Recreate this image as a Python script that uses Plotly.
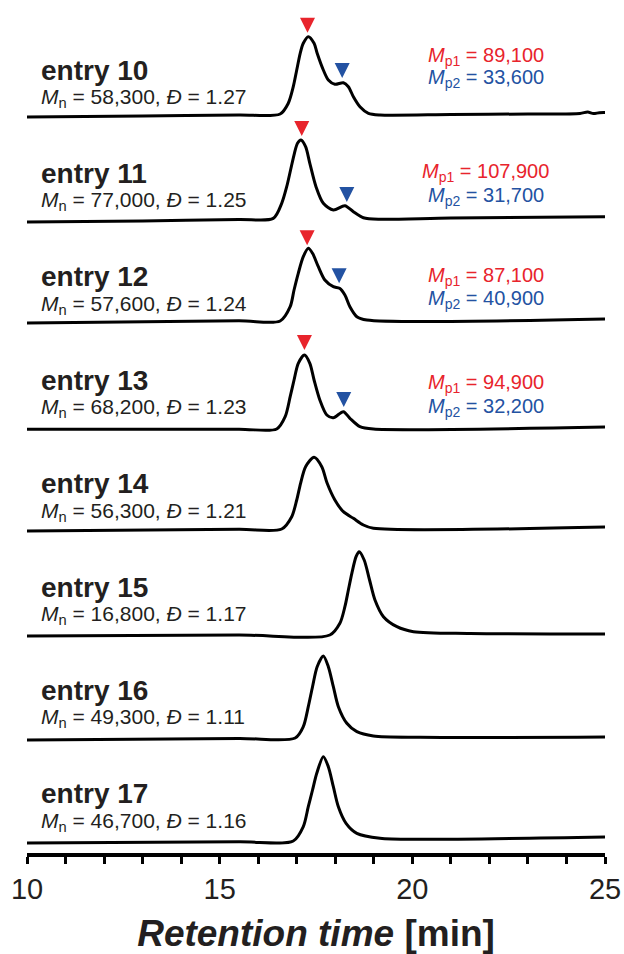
import numpy as np
import plotly.graph_objects as go

# ---------------- data ----------------
entries = ["entry 10", "entry 11", "entry 12", "entry 13",
           "entry 14", "entry 15", "entry 16", "entry 17"]
mn_values = ["58,300", "77,000", "57,600", "68,200",
             "56,300", "16,800", "49,300", "46,700"]
dispersity = ["1.27", "1.25", "1.24", "1.23", "1.21", "1.17", "1.11", "1.16"]

mp1_values = ["89,100", "107,900", "87,100", "94,900"]
mp2_values = ["33,600", "31,700", "40,900", "32,200"]
peak1_time = [17.28, 17.13, 17.27, 17.20]
peak2_time = [18.18, 18.30, 18.10, 18.22]

# retention time [min] / detector signal (arbitrary units) for each trace
time_10 = [10.0, 13.0, 15.5, 16.57, 16.78, 16.91, 17.0, 17.09, 17.17, 17.30, 17.45, 17.53,
           17.69, 17.82, 17.99, 18.21, 18.34, 18.47, 18.64, 18.86, 19.16, 21.0, 23.0,
           24.35, 24.55, 24.7, 24.85, 25.0]
signal_10 = [-4, -3, -2, -1, 9.7, 26.3, 43, 59.7, 69.7, 76.3, 69.7, 59.7,
             43, 33, 28.7, 30.3, 26.3, 16.3, 6.3, -0.3, -2, -1.5, -1,
             -0.5, 1.0, -0.6, 0.3, 0.4]

time_11 = [10.0, 13.0, 15.5, 16.39, 16.61, 16.74, 16.84, 16.94, 17.02, 17.11, 17.23, 17.34,
           17.50, 17.69, 17.95, 18.25, 18.47, 18.73, 19.16, 21.0, 25.0]
signal_11 = [-5.6, -4.5, -3, -2, 13.1, 29.7, 46.4, 63.1, 73.1, 76.4, 69.7, 53.1,
             29.7, 13.1, 6.4, 10.7, 4.7, -1.3, -2.9, -1.5, -0.4]

time_12 = [10.0, 15.5, 16.57, 16.83, 16.93, 17.04, 17.17, 17.30, 17.41, 17.56, 17.73, 17.95,
           18.11, 18.25, 18.38, 18.56, 18.82, 25.0]
signal_12 = [-3.2, -1, -1.2, 13.1, 29.8, 46.5, 63.1, 71.5, 66.5, 53.1, 39.8, 33.1,
             31.5, 24.8, 13.1, 3.1, -0.2, 0.8]

time_13 = [10.0, 15.5, 16.48, 16.70, 16.83, 16.93, 17.04, 17.20, 17.34, 17.45, 17.60, 17.78,
           17.95, 18.21, 18.38, 18.64, 18.99, 25.0]
signal_13 = [-6, -6, -5.8, 6.5, 26.5, 43.2, 59.9, 68.2, 59.9, 43.2, 23.2, 8.2,
             5.5, 11.5, 4.9, -3.5, -5.8, -3.8]

time_14 = [10.0, 15.5, 16.61, 16.87, 17.0, 17.10, 17.23, 17.45, 17.65, 17.79, 17.99, 18.21,
           18.47, 18.73, 18.99, 25.0]
signal_14 = [-4.4, -2.7, -2.4, 9.9, 26.6, 43.3, 59.9, 69.3, 59.9, 43.3, 26.6, 14.9,
             8.3, 1.6, -1.7, -0.4]

time_15 = [10.0, 15.5, 17.86, 18.12, 18.25, 18.34, 18.43, 18.54, 18.62, 18.75, 18.89, 19.03,
           19.25, 19.60, 20.03, 21.5, 25.0]
signal_15 = [-6, -5, -5, 6.7, 23.3, 40, 56.7, 73.3, 78.3, 70, 50, 30,
             13.3, 3.3, -1.7, -3.5, -4]

time_16 = [10.0, 15.5, 16.96, 17.17, 17.30, 17.41, 17.53, 17.69, 17.82, 17.95, 18.08, 18.30,
           18.56, 18.99, 20.2, 25.0]
signal_16 = [-6.6, -5, -4.6, 6.7, 26.7, 46.7, 66.7, 77.4, 66.7, 46.7, 26.7, 10.1,
             1.7, -2.6, -3.9, -3.6]

time_17 = [10.0, 15.5, 16.91, 17.17, 17.30, 17.41, 17.52, 17.69, 17.82, 17.95, 18.08, 18.28,
           18.56, 19.16, 20.2, 25.0]
signal_17 = [-6.2, -5, -4.2, 10.1, 30.1, 46.8, 63.5, 80.1, 70.1, 50.1, 30.1, 13.5,
             3.5, -1.5, -2.5, -0.2]

times = [time_10, time_11, time_12, time_13, time_14, time_15, time_16, time_17]
signals = [signal_10, signal_11, signal_12, signal_13, signal_14, signal_15, signal_16, signal_17]

# ---------------- layout / style ----------------
W, H = 624, 954
M_L, M_R, M_T, M_B = 27, 19, 10, 101
Y_SPAN = H - M_T - M_B          # y units == pixels
STACK = 103.4
BASE = 16.2
offsets = [BASE + (len(entries) - 1 - i) * STACK for i in range(len(entries))]

LINE_COL = "#000000"
TEXT_COL = "#231f20"
RED = "#e8242c"
BLUE = "#2352a2"
FONT = "Liberation Sans, Arial, Helvetica, sans-serif"

fig = go.Figure()

for i in range(len(entries)):
    y = [offsets[i] + s for s in signals[i]]
    fig.add_trace(go.Scatter(
        x=times[i], y=y, mode="lines",
        line=dict(color=LINE_COL, width=3, shape="spline", smoothing=0.8),
        hoverinfo="skip", showlegend=False))

# peak markers (tip sits just above the curve)
GAP = 5
for i in range(len(peak1_time)):
    for t, col in ((peak1_time[i], RED), (peak2_time[i], BLUE)):
        yv = offsets[i] + float(np.interp(t, times[i], signals[i])) + GAP
        fig.add_trace(go.Scatter(
            x=[t], y=[yv], mode="markers",
            marker=dict(symbol="arrow-down", size=15, color=col, line=dict(width=0)),
            hoverinfo="skip", showlegend=False, cliponaxis=False))

# labels
LABEL_X = 10.3
LABEL_DY = 43
MN_DY = 15
for i in range(len(entries)):
    fig.add_annotation(x=LABEL_X, y=offsets[i] + LABEL_DY, xref="x", yref="y",
                       text="<b>%s</b>" % entries[i], showarrow=False,
                       xanchor="left", yanchor="middle",
                       font=dict(family=FONT, size=28, color=TEXT_COL))
    fig.add_annotation(x=LABEL_X, y=offsets[i] + MN_DY, xref="x", yref="y",
                       text="<i>M</i><sub>n</sub> = %s, <i>Đ</i> = %s" % (mn_values[i], dispersity[i]),
                       showarrow=False, xanchor="left", yanchor="middle",
                       font=dict(family=FONT, size=21, color=TEXT_COL))

MP_X = 21.91
mp1_dy = [57, 44, 43, 40]
mp2_dy = [35, 20, 20, 16]
for i in range(len(mp1_values)):
    fig.add_annotation(x=MP_X, y=offsets[i] + mp1_dy[i], xref="x", yref="y",
                       text="<i>M</i><sub>p1</sub> = %s" % mp1_values[i], showarrow=False,
                       xanchor="center", yanchor="middle",
                       font=dict(family=FONT, size=20, color=RED))
    fig.add_annotation(x=MP_X, y=offsets[i] + mp2_dy[i], xref="x", yref="y",
                       text="<i>M</i><sub>p2</sub> = %s" % mp2_values[i], showarrow=False,
                       xanchor="center", yanchor="middle",
                       font=dict(family=FONT, size=20, color=BLUE))

fig.update_layout(
    width=W, height=H,
    margin=dict(l=M_L, r=M_R, t=M_T, b=M_B, pad=0, autoexpand=False),
    paper_bgcolor="white", plot_bgcolor="white",
    font=dict(family=FONT, color=TEXT_COL),
    xaxis=dict(
        range=[10, 25], showgrid=False, zeroline=False, automargin=False,
        showline=True, linecolor=LINE_COL, linewidth=4,
        ticks="outside", ticklen=7, tickwidth=3, tickcolor=LINE_COL,
        tick0=10, dtick=5,
        minor=dict(ticks="outside", dtick=1, ticklen=7, tickwidth=3, tickcolor=LINE_COL),
        tickfont=dict(family=FONT, size=29, color=TEXT_COL),
        title=dict(text="<b><i>Retention time</i> [min]</b>",
                   font=dict(family=FONT, size=37, color=TEXT_COL), standoff=24),
    ),
    yaxis=dict(range=[0, Y_SPAN], visible=False, showgrid=False, zeroline=False),
)

fig.write_html("out.html",
               config={"displayModeBar": False, "staticPlot": True},
               post_script="document.body.style.margin='0';document.body.style.overflow='hidden';")
